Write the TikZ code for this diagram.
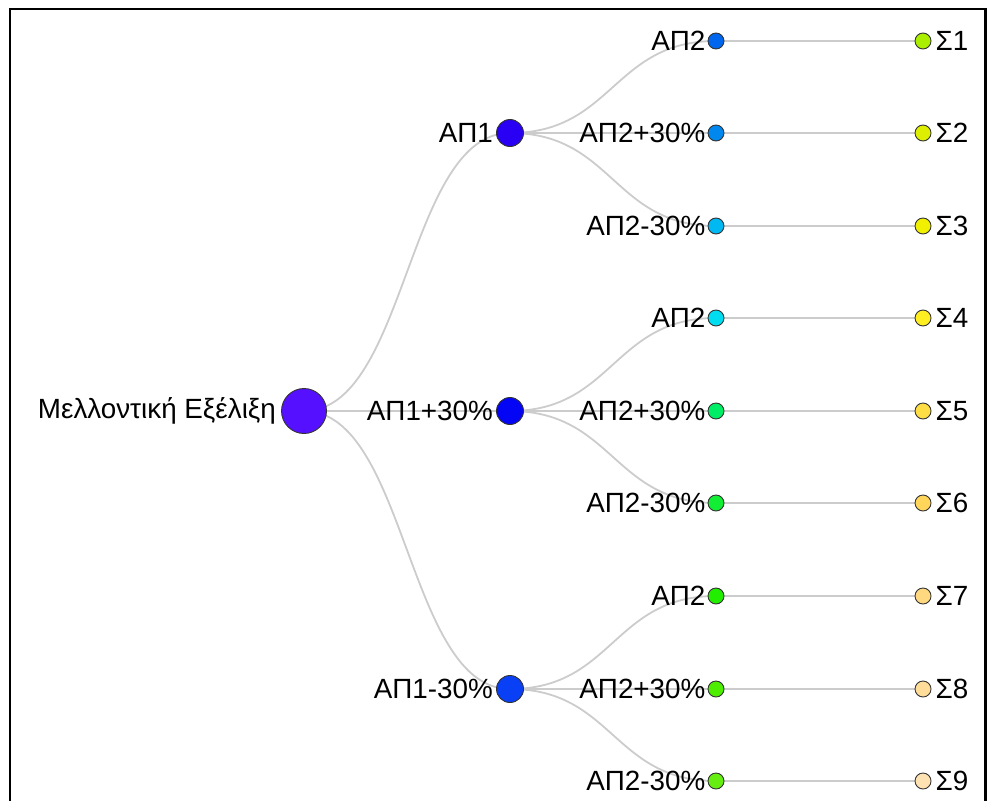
\documentclass[tikz,border=0pt]{standalone}
\usepackage{fontspec}
\setmainfont{Liberation Sans}
\pgfdeclarelayer{bg}
\pgfsetlayers{bg,main}
\definecolor{c0}{HTML}{5511FF}
\definecolor{c1a}{HTML}{2A00F5}
\definecolor{c1b}{HTML}{0505F5}
\definecolor{c1c}{HTML}{0A40F5}
\definecolor{c2a}{HTML}{0066EE}
\definecolor{c2b}{HTML}{0088EE}
\definecolor{c2c}{HTML}{00B8F2}
\definecolor{c2d}{HTML}{00DDF0}
\definecolor{c2e}{HTML}{00EE66}
\definecolor{c2f}{HTML}{11EE33}
\definecolor{c2g}{HTML}{22EE00}
\definecolor{c2h}{HTML}{4DEE00}
\definecolor{c2i}{HTML}{66EE11}
\definecolor{c3a}{HTML}{AAEE00}
\definecolor{c3b}{HTML}{DDEE00}
\definecolor{c3c}{HTML}{F0F000}
\definecolor{c3d}{HTML}{FFEE22}
\definecolor{c3e}{HTML}{FFDD44}
\definecolor{c3f}{HTML}{FFD55A}
\definecolor{c3g}{HTML}{FFD880}
\definecolor{c3h}{HTML}{FFDD99}
\definecolor{c3i}{HTML}{FFE2B2}
\definecolor{linkgray}{HTML}{CCCCCC}
\definecolor{strokegray}{HTML}{333333}
\tikzset{
  dot/.style={circle, draw=strokegray, line width=0.9pt, inner sep=0pt},
  rootdot/.style={dot, minimum size=45pt},
  lonedot/.style={dot, minimum size=27pt},
  ltwodot/.style={dot, minimum size=16pt},
  lbl/.style={inner sep=0pt, font=\fontsize{27.8}{32}\selectfont},
  lbll/.style={lbl, anchor=east},
  lblr/.style={lbl, anchor=west},
  link/.style={draw=linkgray, line width=1.8pt},
}
\newcommand{\dlink}[2]{\draw[link] (#1.center) .. controls ([xshift=103pt]#1.center) and ([xshift=-103pt]#2.center) .. (#2.center);}
\begin{document}
\begin{tikzpicture}[x=1pt,y=-1pt]
\useasboundingbox (0,0) rectangle (987,800);
\draw[black, line width=2.2pt] (10,812) -- (10,9) -- (985.5,9) -- (985.5,812);
% nodes
\node[rootdot, fill=c0] (r) at (304,411) {};
\node[lonedot, fill=c1a] (a1) at (510,133) {};
\node[lonedot, fill=c1b] (a2) at (510,411) {};
\node[lonedot, fill=c1c] (a3) at (510,689) {};
\node[ltwodot, fill=c2a] (b1) at (716,41) {};
\node[ltwodot, fill=c2b] (b2) at (716,133) {};
\node[ltwodot, fill=c2c] (b3) at (716,226) {};
\node[ltwodot, fill=c2d] (b4) at (716,318) {};
\node[ltwodot, fill=c2e] (b5) at (716,411) {};
\node[ltwodot, fill=c2f] (b6) at (716,503) {};
\node[ltwodot, fill=c2g] (b7) at (716,596) {};
\node[ltwodot, fill=c2h] (b8) at (716,689) {};
\node[ltwodot, fill=c2i] (b9) at (716,781) {};
\node[ltwodot, fill=c3a] (s1) at (923,41) {};
\node[ltwodot, fill=c3b] (s2) at (923,133) {};
\node[ltwodot, fill=c3c] (s3) at (923,226) {};
\node[ltwodot, fill=c3d] (s4) at (923,318) {};
\node[ltwodot, fill=c3e] (s5) at (923,411) {};
\node[ltwodot, fill=c3f] (s6) at (923,503) {};
\node[ltwodot, fill=c3g] (s7) at (923,596) {};
\node[ltwodot, fill=c3h] (s8) at (923,689) {};
\node[ltwodot, fill=c3i] (s9) at (923,781) {};
% labels
\node[lbll] (lr) at ([xshift=-5pt]r.west) {Μελλοντική Εξέλιξη};
\node[lbll] (la1) at ([xshift=-3pt]a1.west) {ΑΠ1};
\node[lbll] (la2) at ([xshift=-3pt]a2.west) {ΑΠ1+30\%};
\node[lbll] (la3) at ([xshift=-3pt]a3.west) {ΑΠ1-30\%};
\node[lbll] (lb1) at ([xshift=-2pt]b1.west) {ΑΠ2};
\node[lbll] (lb2) at ([xshift=-2pt]b2.west) {ΑΠ2+30\%};
\node[lbll] (lb3) at ([xshift=-2pt]b3.west) {ΑΠ2-30\%};
\node[lbll] (lb4) at ([xshift=-2pt]b4.west) {ΑΠ2};
\node[lbll] (lb5) at ([xshift=-2pt]b5.west) {ΑΠ2+30\%};
\node[lbll] (lb6) at ([xshift=-2pt]b6.west) {ΑΠ2-30\%};
\node[lbll] (lb7) at ([xshift=-2pt]b7.west) {ΑΠ2};
\node[lbll] (lb8) at ([xshift=-2pt]b8.west) {ΑΠ2+30\%};
\node[lbll] (lb9) at ([xshift=-2pt]b9.west) {ΑΠ2-30\%};
\node[lblr] (ls1) at ([xshift=4pt]s1.east) {Σ1};
\node[lblr] (ls2) at ([xshift=4pt]s2.east) {Σ2};
\node[lblr] (ls3) at ([xshift=4pt]s3.east) {Σ3};
\node[lblr] (ls4) at ([xshift=4pt]s4.east) {Σ4};
\node[lblr] (ls5) at ([xshift=4pt]s5.east) {Σ5};
\node[lblr] (ls6) at ([xshift=4pt]s6.east) {Σ6};
\node[lblr] (ls7) at ([xshift=4pt]s7.east) {Σ7};
\node[lblr] (ls8) at ([xshift=4pt]s8.east) {Σ8};
\node[lblr] (ls9) at ([xshift=4pt]s9.east) {Σ9};
% links
\begin{pgfonlayer}{bg}
\dlink{r}{a1}
\dlink{r}{a2}
\dlink{r}{a3}
\dlink{a1}{b1}
\dlink{a1}{b2}
\dlink{a1}{b3}
\dlink{a2}{b4}
\dlink{a2}{b5}
\dlink{a2}{b6}
\dlink{a3}{b7}
\dlink{a3}{b8}
\dlink{a3}{b9}
\draw[link] (b1.center) -- (s1.center);
\draw[link] (b2.center) -- (s2.center);
\draw[link] (b3.center) -- (s3.center);
\draw[link] (b4.center) -- (s4.center);
\draw[link] (b5.center) -- (s5.center);
\draw[link] (b6.center) -- (s6.center);
\draw[link] (b7.center) -- (s7.center);
\draw[link] (b8.center) -- (s8.center);
\draw[link] (b9.center) -- (s9.center);
\end{pgfonlayer}
\end{tikzpicture}
\end{document}
